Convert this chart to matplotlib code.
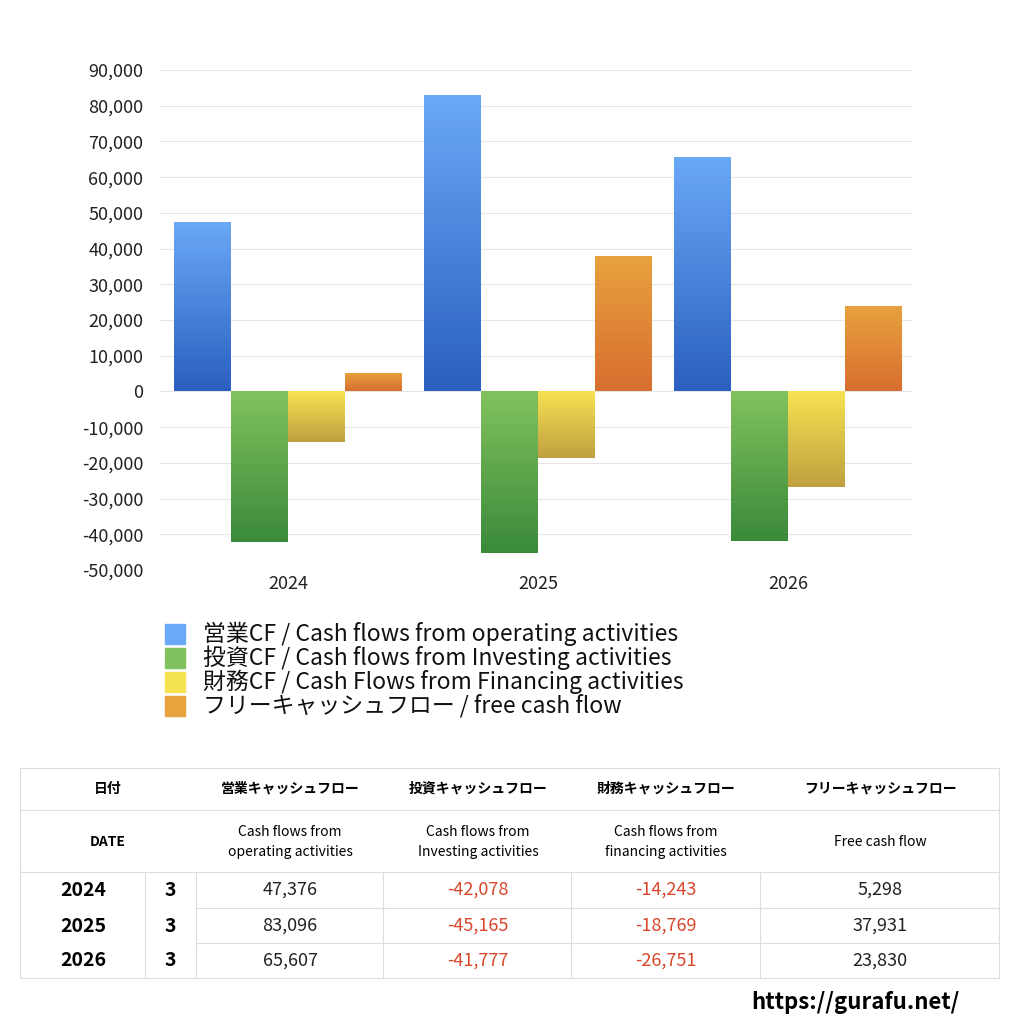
import matplotlib.pyplot as plt
import numpy as np
from matplotlib.colors import LinearSegmentedColormap
from matplotlib.ticker import FuncFormatter

plt.rcParams['font.family'] = ['Noto Sans CJK JP', 'DejaVu Sans']

years = ["2024", "2025", "2026"]
months = ["3", "3", "3"]
operating = [47376, 83096, 65607]
investing = [-42078, -45165, -41777]
financing = [-14243, -18769, -26751]
free_cf = [5298, 37931, 23830]

labels = ["営業CF / Cash flows from operating activities",
          "投資CF / Cash flows from Investing activities",
          "財務CF / Cash Flows from Financing activities",
          "フリーキャッシュフロー / free cash flow"]
grads = [("#6aa9f6", "#2b5fc0"), ("#82c25e", "#3a8a3a"),
         ("#f6e352", "#bfa040"), ("#e8a23e", "#d86e30")]

W = H = 1024
fig = plt.figure(figsize=(10.24, 10.24), dpi=100)

def fx(x):
    return x / W

def fy(y):
    return 1 - y / H

ax = fig.add_axes([fx(160), fy(570), fx(913) - fx(160), (570 - 70) / H])
ax.set_xlim(-0.512, 2.5)
ax.set_ylim(-50000, 90000)
ax.set_yticks(range(-50000, 90001, 10000))
ax.yaxis.set_major_formatter(FuncFormatter(lambda v, p: f"{int(v):,}"))
ax.set_xticks(range(len(years)))
ax.set_xticklabels(years)
ax.tick_params(length=0, labelsize=13, colors="#222222")
ax.tick_params(axis='y', pad=12)
for s in ax.spines.values():
    s.set_visible(False)
ax.grid(axis='y', color="#e6e6e6", linewidth=0.8)
ax.set_axisbelow(True)

bw = 0.228
series = [operating, investing, financing, free_cf]
grad = np.linspace(1, 0, 256).reshape(-1, 1)
for k, vals in enumerate(series):
    cmap = LinearSegmentedColormap.from_list("g%d" % k, [grads[k][1], grads[k][0]])
    for i, v in enumerate(vals):
        x0 = i - 2 * bw + k * bw
        bar = ax.bar(x0, v, bw, align='edge', color=grads[k][0], zorder=2)[0]
        top, bot = (v, 0) if v > 0 else (0, v)
        im = ax.imshow(grad, extent=[x0, x0 + bw, bot, top], aspect='auto',
                       cmap=cmap, zorder=3)
        im.set_clip_path(bar)

# legend
for k, lab in enumerate(labels):
    y = 634 + k * 24
    fig.patches.append(plt.Rectangle((fx(165), fy(y + 10)), 20 / W, 20 / H,
                                     transform=fig.transFigure, color=grads[k][0]))
    fig.text(fx(203), fy(y), lab, fontsize=16.5, va='center', color="#111111")

# table
line_c = "#dddddd"
def hline(y, x0=20, x1=999):
    fig.add_artist(plt.Line2D([fx(x0), fx(x1)], [fy(y), fy(y)], color=line_c, lw=0.8))

def vline(x, y0, y1):
    fig.add_artist(plt.Line2D([fx(x), fx(x)], [fy(y0), fy(y1)], color=line_c, lw=0.8))

for y in [768, 810, 872, 978]:
    hline(y)
hline(908, 196)
hline(943, 196)
vline(20, 768, 978)
vline(999, 768, 978)
for x in [145, 196, 383, 571, 760]:
    vline(x, 872, 978)

heads_jp = ["営業キャッシュフロー", "投資キャッシュフロー", "財務キャッシュフロー", "フリーキャッシュフロー"]
heads_en = ["Cash flows from\noperating activities", "Cash flows from\nInvesting activities",
            "Cash flows from\nfinancing activities", "Free cash flow"]
cx = [290, 478, 666, 880]
fig.text(fx(108), fy(789), "日付", fontsize=10, weight='bold', ha='center', va='center')
fig.text(fx(108), fy(842), "DATE", fontsize=10, weight='bold', ha='center', va='center')
for j in range(4):
    fig.text(fx(cx[j]), fy(789), heads_jp[j], fontsize=10, weight='bold', ha='center', va='center')
    fig.text(fx(cx[j]), fy(842), heads_en[j], fontsize=10, ha='center', va='center', linespacing=1.5)

rows_y = [890, 926, 961]
for i in range(3):
    y = rows_y[i]
    fig.text(fx(83), fy(y), years[i], fontsize=14, weight='bold', ha='center', va='center')
    fig.text(fx(170), fy(y), months[i], fontsize=14, weight='bold', ha='center', va='center')
    for j, vals in enumerate(series):
        v = vals[i]
        fig.text(fx(cx[j]), fy(y), f"{v:,}", fontsize=13, ha='center', va='center',
                 color="#d9472b" if v < 0 else "#222222")

fig.text(fx(855), fy(1003), "https://gurafu.net/", fontsize=16, weight='bold',
         ha='center', va='center')

fig.savefig("out.png", dpi=100)
